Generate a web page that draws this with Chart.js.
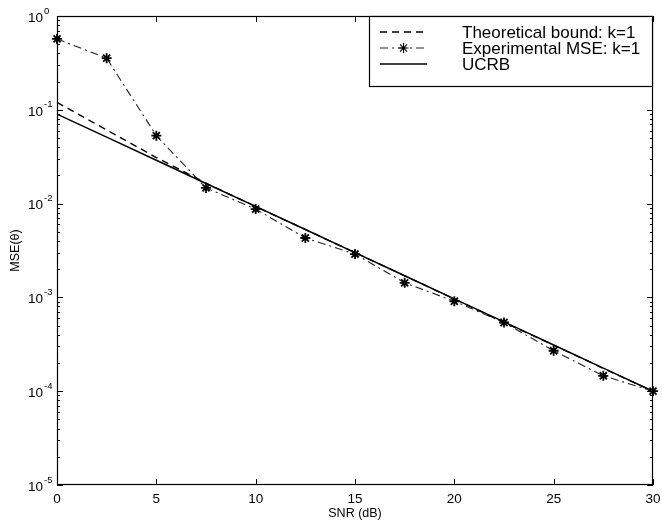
<!DOCTYPE html>
<html>
<head>
<meta charset="utf-8">
<script src="https://cdn.jsdelivr.net/npm/chart.js@4.4.1/dist/chart.umd.min.js"></script>
<style>
  html, body { margin: 0; padding: 0; background: #fff; }
</style>
</head>
<body>
<canvas id="myChart" width="662" height="523"></canvas>
<script>
// data
const snr = [0, 2.5, 5, 7.5, 10, 12.5, 15, 17.5, 20, 22.5, 25, 27.5, 30];
const theoretical = [0.12, 0.061, 0.031, 0.0165, 0.0093, 0.0053, 0.003, 0.0017, 0.00096, 0.00054, 0.00031, 0.000175, 0.0001];
const experimental = [0.57, 0.355, 0.053, 0.0147, 0.00875, 0.0043, 0.0029, 0.00143, 0.00091, 0.00054, 0.00027, 0.000146, 0.0001];
const ucrb = [0.09, 0.0511, 0.029, 0.0164, 0.00933, 0.0053, 0.003, 0.0017, 0.000966, 0.000548, 0.000311, 0.000176, 0.0001];
const xTicks = [0, 5, 10, 15, 20, 25, 30];
const yExponents = [0, -1, -2, -3, -4, -5];
const seriesNames = ['Theoretical bound: k=1', 'Experimental MSE: k=1', 'UCRB'];

const FONT = 'Liberation Sans, Arial, Helvetica, sans-serif';

const toPoints = (ys) => snr.map((x, i) => ({ x: x, y: ys[i] }));

// box, inward ticks, y labels with exponents, legend
const matlabFrame = {
  id: 'matlabFrame',
  afterDraw(chart) {
    const ctx = chart.ctx;
    const a = chart.chartArea;
    const xs = chart.scales.x, ys = chart.scales.y;
    ctx.save();
    ctx.strokeStyle = '#000';
    ctx.lineWidth = 1.2;
    ctx.setLineDash([]);
    ctx.strokeRect(a.left + 0.5, a.top + 0.5, a.right - a.left - 1, a.bottom - a.top - 1);

    ctx.lineWidth = 1;
    ctx.beginPath();
    xTicks.forEach(v => {
      const px = Math.round(xs.getPixelForValue(v)) + 0.5;
      ctx.moveTo(px, a.bottom); ctx.lineTo(px, a.bottom - 6);
      ctx.moveTo(px, a.top); ctx.lineTo(px, a.top + 6);
    });
    yExponents.forEach(e => {
      for (let m = 1; m <= 9; m++) {
        if (e === 0 && m > 1) continue;
        const py = Math.round(ys.getPixelForValue(m * Math.pow(10, e))) + 0.5;
        const len = m === 1 ? 6 : 3;
        ctx.moveTo(a.left, py); ctx.lineTo(a.left + len, py);
        ctx.moveTo(a.right, py); ctx.lineTo(a.right - len, py);
      }
    });
    ctx.stroke();

    // y tick labels 10^e
    ctx.fillStyle = '#000';
    yExponents.forEach(e => {
      const py = ys.getPixelForValue(Math.pow(10, e));
      ctx.font = '13.5px ' + FONT;
      ctx.textAlign = 'right';
      ctx.textBaseline = 'middle';
      ctx.fillText('10', 43, py + 2);
      ctx.font = '9.5px ' + FONT;
      ctx.textAlign = 'left';
      ctx.fillText(e === 0 ? '0' : '-' + Math.abs(e), 44, py - 5);
    });

    // legend
    const box = { l: 369, t: a.top, r: a.right, b: 87 };
    ctx.fillStyle = '#fff';
    ctx.fillRect(box.l, box.t, box.r - box.l, box.b - box.t);
    ctx.lineWidth = 1.2;
    ctx.strokeRect(box.l + 0.5, box.t + 0.5, box.r - box.l - 1, box.b - box.t - 1);
    const rows = [32, 48, 64];
    chart.data.datasets.forEach((ds, i) => {
      const y = rows[i];
      ctx.save();
      ctx.strokeStyle = ds.borderColor;
      ctx.lineWidth = ds.borderWidth;
      ctx.setLineDash(ds.borderDash || []);
      ctx.beginPath();
      ctx.moveTo(380, y); ctx.lineTo(427, y);
      ctx.stroke();
      ctx.setLineDash([]);
      if (ds.pointRadius > 0) {
        ctx.strokeStyle = ds.pointBorderColor;
        ctx.fillStyle = ds.pointBackgroundColor;
        Chart.helpers.drawPoint(ctx, {
          pointStyle: ds.pointStyle, radius: ds.pointRadius,
          rotation: 0, borderWidth: ds.pointBorderWidth
        }, 403.5, y);
      }
      ctx.restore();
      ctx.fillStyle = '#000';
      ctx.font = '17px ' + FONT;
      ctx.textAlign = 'left';
      ctx.textBaseline = 'middle';
      ctx.fillText(ds.label, 462, y + 1);
    });
    ctx.restore();
  }
};

const data = {
  datasets: [
    {
      label: seriesNames[0],
      data: toPoints(theoretical),
      borderColor: '#000',
      borderWidth: 1.4,
      borderDash: [7, 5],
      pointRadius: 0,
      tension: 0
    },
    {
      label: seriesNames[1],
      data: toPoints(experimental),
      borderColor: '#222',
      borderWidth: 1.1,
      borderDash: [8, 4, 2, 4],
      pointStyle: 'star',
      pointRadius: 5,
      pointBorderWidth: 1.8,
      pointBorderColor: '#000',
      pointBackgroundColor: '#000',
      tension: 0
    },
    {
      label: seriesNames[2],
      data: toPoints(ucrb),
      borderColor: '#000',
      borderWidth: 1.5,
      pointRadius: 0,
      tension: 0
    }
  ]
};

const config = {
  type: 'line',
  data,
  options: {
    responsive: false,
    animation: false,
    clip: false,
    layout: { padding: { top: 16, right: 9, left: 0, bottom: 0 } },
    plugins: {
      legend: { display: false },
      tooltip: { enabled: false }
    },
    scales: {
      x: {
        type: 'linear',
        min: 0,
        max: 30,
        ticks: {
          stepSize: 5,
          color: '#000',
          padding: 6,
          maxRotation: 0,
          font: { family: FONT, size: 13.5 }
        },
        grid: { display: false, drawTicks: false },
        border: { display: false },
        title: {
          display: true,
          text: 'SNR (dB)',
          color: '#000',
          font: { family: FONT, size: 12.5 },
          padding: { top: 0, bottom: 2 }
        },
        afterFit(s) { s.height = 38; s.paddingLeft = 0; s.paddingRight = 0; }
      },
      y: {
        type: 'logarithmic',
        min: 1e-5,
        max: 1,
        ticks: { display: false },
        grid: { display: false, drawTicks: false },
        border: { display: false },
        title: {
          display: true,
          text: 'MSE(θ)',
          color: '#000',
          font: { family: FONT, size: 12.5 },
          padding: { top: 8, bottom: 0 }
        },
        afterFit(s) { s.width = 57; }
      }
    }
  },
  plugins: [matlabFrame]
};

const myChart = new Chart(document.getElementById('myChart'), config);
</script>
</body>
</html>
